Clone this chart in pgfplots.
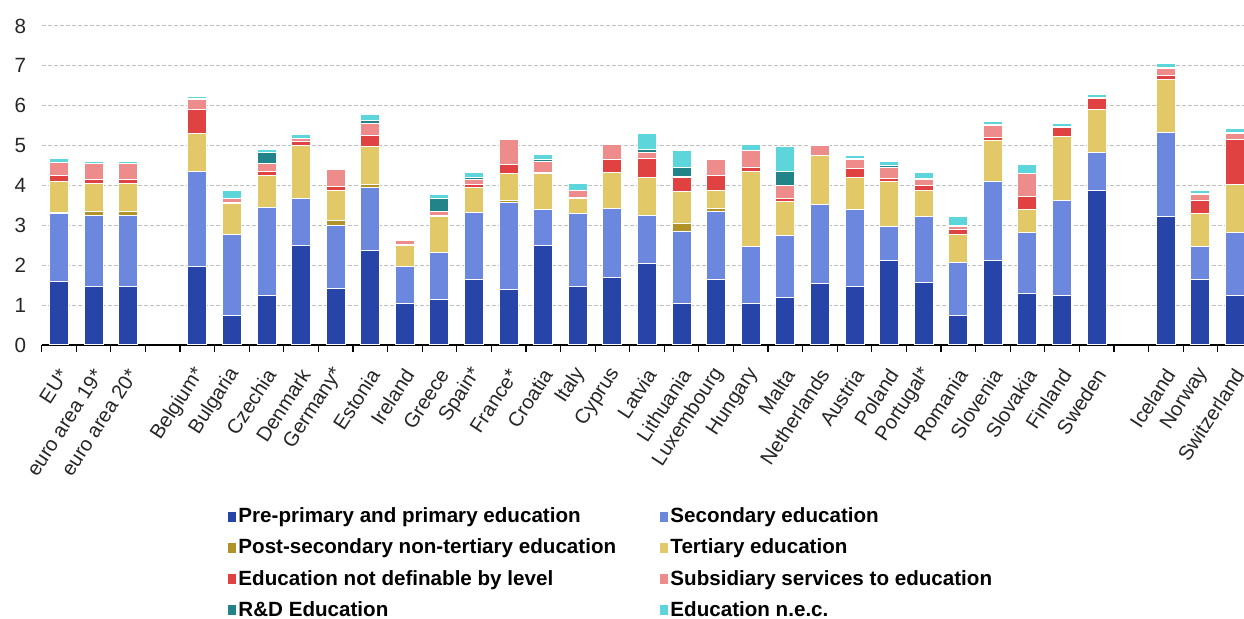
\documentclass[border=0pt]{standalone}
\usepackage{fontspec}
\setmainfont{Liberation Sans}
\usepackage{pgfplots}
\pgfplotsset{compat=1.18}
\usepackage{pgfplotstable}
\definecolor{cprim}{RGB}{39,69,168}
\definecolor{csec}{RGB}{108,136,222}
\definecolor{cpost}{RGB}{176,146,40}
\definecolor{ctert}{RGB}{226,200,102}
\definecolor{cnd}{RGB}{224,66,66}
\definecolor{csubs}{RGB}{238,140,140}
\definecolor{crd}{RGB}{32,132,136}
\definecolor{cnec}{RGB}{92,214,218}
\pgfplotstableread{
x prim sec post tert nd subs rd nec
0 1.60 1.70 0.03 0.78 0.13 0.33 0.00 0.11
1 1.46 1.80 0.08 0.70 0.12 0.38 0.00 0.07
2 1.47 1.79 0.08 0.70 0.12 0.38 0.00 0.07
4 1.98 2.38 0.00 0.94 0.61 0.24 0.02 0.06
5 0.75 2.02 0.00 0.78 0.02 0.11 0.00 0.19
6 1.25 2.20 0.00 0.79 0.10 0.21 0.28 0.07
7 2.49 1.19 0.00 1.33 0.09 0.07 0.00 0.11
8 1.42 1.58 0.12 0.75 0.10 0.42 0.00 0.00
9 2.36 1.58 0.09 0.94 0.29 0.30 0.06 0.16
10 1.04 0.94 0.00 0.51 0.03 0.11 0.00 0.00
11 1.15 1.18 0.00 0.90 0.02 0.10 0.33 0.10
12 1.65 1.68 0.00 0.61 0.09 0.11 0.05 0.14
13 1.40 2.18 0.05 0.67 0.23 0.63 0.00 0.00
14 2.49 0.91 0.00 0.90 0.03 0.26 0.05 0.14
15 1.46 1.84 0.00 0.38 0.02 0.17 0.00 0.17
16 1.69 1.74 0.00 0.90 0.31 0.40 0.00 0.00
17 2.05 1.21 0.00 0.94 0.48 0.16 0.07 0.39
18 1.04 1.81 0.19 0.81 0.35 0.03 0.22 0.42
19 1.65 1.71 0.07 0.45 0.38 0.39 0.00 0.00
20 1.04 1.42 0.00 1.90 0.09 0.42 0.02 0.15
21 1.20 1.55 0.00 0.84 0.09 0.32 0.36 0.61
22 1.53 2.00 0.00 1.22 0.00 0.25 0.00 0.00
23 1.46 1.94 0.00 0.80 0.23 0.22 0.02 0.08
24 2.11 0.86 0.00 1.14 0.07 0.26 0.07 0.10
25 1.56 1.65 0.00 0.67 0.13 0.13 0.04 0.15
26 0.75 1.33 0.00 0.69 0.13 0.08 0.02 0.21
27 2.11 2.00 0.00 1.03 0.07 0.30 0.02 0.08
28 1.30 1.51 0.00 0.59 0.32 0.58 0.00 0.23
29 1.24 2.39 0.00 1.60 0.23 0.02 0.00 0.07
30 3.88 0.96 0.00 1.07 0.28 0.02 0.00 0.08
32 3.23 2.10 0.00 1.33 0.10 0.18 0.02 0.11
33 1.65 0.81 0.00 0.84 0.33 0.15 0.02 0.08
34 1.24 1.58 0.00 1.20 1.14 0.14 0.02 0.10
}\data
\pgfplotsset{legsq/.style={legend image code/.code={\fill[##1,draw=none] (0pt,-2.6pt) rectangle (4pt,2.6pt);}}}
\begin{document}
\begin{tikzpicture}
\begin{axis}[
  scale only axis, width=601.15pt, height=159.5pt,
  xmin=-0.5, xmax=34.26, ymin=0, ymax=8,
  ybar stacked, bar width=0.55,
  axis x line*=bottom, axis y line*=left,
  y axis line style={draw=none},
  x axis line style={black, line width=0.6pt},
  ytick={0,...,8},
  major y tick style={draw=none},
  ymajorgrids, grid style={gray!50, dash pattern=on 2pt off 1pt, line width=0.5pt},
  xtick={0,1,2,4,5,...,30,32,33,34},
  xticklabels={EU*,euro area 19*,euro area 20*,Belgium*,Bulgaria,Czechia,Denmark,Germany*,Estonia,Ireland,Greece,Spain*,France*,Croatia,Italy,Cyprus,Latvia,Lithuania,Luxembourg,Hungary,Malta,Netherlands,Austria,Poland,Portugal*,Romania,Slovenia,Slovakia,Finland,Sweden,Iceland,Norway,Switzerland},
  major x tick style={draw=none},
  minor xtick={-0.5,0.5,...,34.5},
  minor x tick style={black, line width=0.6pt},
  minor tick length=3.5pt,
  tick align=outside,
  x tick label style={rotate=57, anchor=south east, font=\fontsize{10.1}{12}\selectfont, text=black!85, inner sep=1pt, yshift=-11.5pt, xshift=-5pt},
  y tick label style={font=\fontsize{10.3}{12}\selectfont, text=black!85, xshift=0pt},
  /pgf/number format/assume math mode=true,
  legend columns=2,
  legend cell align=left,
  legend style={draw=none, fill=none, at={(axis description cs:0.155,-0.503)}, anchor=north west,
    font=\bfseries\fontsize{10.3}{12}\selectfont, row sep=4.6pt, inner sep=0pt,
    nodes={inner sep=1pt}},
]
\addplot[draw=white, line width=0.5pt, fill=cprim, legsq] table[x=x,y=prim]{\data};
\addplot[draw=white, line width=0.5pt, fill=csec, legsq] table[x=x,y=sec]{\data};
\addplot[draw=white, line width=0.5pt, fill=cpost, legsq] table[x=x,y=post]{\data};
\addplot[draw=white, line width=0.5pt, fill=ctert, legsq] table[x=x,y=tert]{\data};
\addplot[draw=white, line width=0.5pt, fill=cnd, legsq] table[x=x,y=nd]{\data};
\addplot[draw=white, line width=0.5pt, fill=csubs, legsq] table[x=x,y=subs]{\data};
\addplot[draw=white, line width=0.5pt, fill=crd, legsq] table[x=x,y=rd]{\data};
\addplot[draw=white, line width=0.5pt, fill=cnec, legsq] table[x=x,y=nec]{\data};
\addlegendentry{\makebox[210pt][l]{Pre-primary and primary education}}
\addlegendentry{Secondary education}
\addlegendentry{\makebox[210pt][l]{Post-secondary non-tertiary education}}
\addlegendentry{Tertiary education}
\addlegendentry{\makebox[210pt][l]{Education not definable by level}}
\addlegendentry{Subsidiary services to education}
\addlegendentry{\makebox[210pt][l]{R\&D Education}}
\addlegendentry{Education n.e.c.}
\draw[black, line width=0.6pt] (axis cs:-0.5,0) -- (axis cs:34.26,0);
\end{axis}
\pgfresetboundingbox
\useasboundingbox (-20.85pt,-137pt) rectangle (601.15pt,172.5pt);
\end{tikzpicture}
\end{document}
